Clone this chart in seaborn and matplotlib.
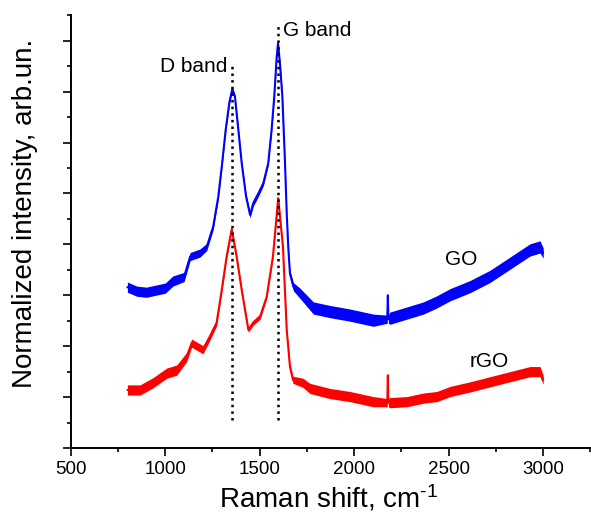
import numpy as np
import pandas as pd
import matplotlib
matplotlib.use("Agg")
import matplotlib.pyplot as plt
import seaborn as sns
from matplotlib.ticker import MultipleLocator, NullFormatter


# Raman spectra (x in cm-1, y in arbitrary units)
GO_X = [800, 850, 900, 950, 1000, 1041, 1100, 1132, 1184, 1220, 1254, 1281,
        1300, 1320, 1340, 1355, 1369, 1387, 1405, 1428, 1449, 1466, 1493, 1519,
        1545, 1563, 1577, 1590, 1597, 1607, 1620, 1634, 1643, 1651, 1660, 1678,
        1713, 1784, 1872, 1978, 2101, 2175, 2178, 2181, 2189, 2278, 2366, 2437,
        2507, 2613, 2718, 2824, 2930, 2983, 3000]
GO_Y = [3.16, 3.08, 3.06, 3.10, 3.14, 3.28, 3.36, 3.76, 3.83, 3.95, 4.35, 4.94,
        5.55, 6.25, 6.80, 7.05, 6.90, 6.25, 5.59, 4.94, 4.58, 4.81, 5.00, 5.20,
        5.59, 6.25, 6.90, 7.69, 7.95, 7.56, 6.90, 5.59, 4.61, 3.95, 3.43, 3.17,
        3.04, 2.75, 2.68, 2.61, 2.51, 2.53, 3.00, 2.53, 2.55, 2.65, 2.75, 2.87,
        3.01, 3.17, 3.37, 3.63, 3.89, 3.95, 3.83]
# half width of the noise band around the GO trace
GO_NOISE = [0.10, 0.10, 0.10, 0.10, 0.10, 0.10, 0.09, 0.08, 0.08, 0.07, 0.06, 0.05,
            0.04, 0.04, 0.04, 0.04, 0.04, 0.04, 0.04, 0.05, 0.06, 0.06, 0.06, 0.05,
            0.04, 0.04, 0.04, 0.04, 0.04, 0.04, 0.04, 0.04, 0.04, 0.05, 0.06, 0.08,
            0.10, 0.12, 0.12, 0.12, 0.12, 0.08, 0.02, 0.08, 0.12, 0.12, 0.12, 0.12,
            0.12, 0.12, 0.12, 0.12, 0.12, 0.12, 0.10]

RGO_X = [800, 867, 935, 1008, 1061, 1114, 1140, 1200, 1237, 1272, 1299, 1325,
         1352, 1378, 1405, 1440, 1465, 1502, 1537, 1570, 1598, 1623, 1643, 1660,
         1676, 1729, 1766, 1872, 1978, 2101, 2175, 2178, 2181, 2189, 2278, 2366,
         2437, 2507, 2613, 2718, 2824, 2930, 2983, 3000]
RGO_Y = [1.14, 1.14, 1.28, 1.47, 1.53, 1.79, 2.06, 1.93, 2.19, 2.46, 3.10, 3.76,
         4.30, 3.76, 3.10, 2.32, 2.46, 2.58, 2.97, 3.76, 4.91, 3.95, 2.32, 1.60,
         1.34, 1.28, 1.17, 1.07, 1.01, 0.91, 0.89, 1.43, 0.89, 0.89, 0.91, 0.98,
         1.01, 1.11, 1.20, 1.30, 1.40, 1.50, 1.50, 1.34]
RGO_NOISE = [0.10, 0.10, 0.10, 0.10, 0.10, 0.09, 0.08, 0.08, 0.07, 0.06, 0.05, 0.04,
             0.04, 0.04, 0.04, 0.05, 0.05, 0.05, 0.04, 0.04, 0.04, 0.04, 0.04, 0.05,
             0.07, 0.09, 0.10, 0.10, 0.10, 0.10, 0.08, 0.02, 0.08, 0.10, 0.10, 0.10,
             0.10, 0.10, 0.10, 0.10, 0.10, 0.10, 0.10, 0.09]

# band positions and the vertical extent of the dotted markers
BAND_POS = [1355, 1598]
BAND_TOP = [7.52, 8.31]
BAND_BOTTOM = 0.55
BAND_LABELS = ["D band", "G band"]

X_TICKS = [500, 1000, 1500, 2000, 2500, 3000]


sns.set_style("ticks")
plt.rcParams['font.family'] = ['Liberation Sans', 'DejaVu Sans']
plt.rcParams['mathtext.fontset'] = 'custom'
plt.rcParams['mathtext.rm'] = 'Liberation Sans'
plt.rcParams['mathtext.it'] = 'Liberation Sans:italic'
plt.rcParams['text.color'] = 'black'
plt.rcParams['axes.labelcolor'] = 'black'
plt.rcParams['xtick.color'] = 'black'
plt.rcParams['ytick.color'] = 'black'

go = pd.DataFrame({'shift': GO_X, 'intensity': GO_Y, 'noise': GO_NOISE})
rgo = pd.DataFrame({'shift': RGO_X, 'intensity': RGO_Y, 'noise': RGO_NOISE})

fig = plt.figure(figsize=(5.91, 5.15), dpi=100)
ax = fig.add_axes([0.1196, 0.1301, 0.8795, 0.8402])

for df, col in [(go, '#0000ff'), (rgo, '#ff0000')]:
    ax.fill_between(df['shift'], df['intensity'] - df['noise'],
                    df['intensity'] + df['noise'], color=col, lw=0)
    sns.lineplot(data=df, x='shift', y='intensity', color=col, lw=1.5, ax=ax)

for pos, top in zip(BAND_POS, BAND_TOP):
    ax.plot([pos, pos], [BAND_BOTTOM, top], color='black', ls=':', lw=1.8)

ax.text(1328, 7.39, BAND_LABELS[0], ha='right', va='baseline', fontsize=15)
ax.text(1625, 8.10, BAND_LABELS[1], ha='left', va='baseline', fontsize=15)
ax.text(2565, 3.60, "GO", ha='center', va='baseline', fontsize=15)
ax.text(2717, 1.60, "rGO", ha='center', va='baseline', fontsize=15)

ax.set_xlim(500, 3250)
ax.set_ylim(0, 8.5)
ax.set_xticks(X_TICKS)
ax.xaxis.set_minor_locator(MultipleLocator(250))
ax.yaxis.set_major_locator(MultipleLocator(1))
ax.yaxis.set_minor_locator(MultipleLocator(0.5))
ax.yaxis.set_major_formatter(NullFormatter())

ax.tick_params(which='major', direction='out', length=5.8, width=1.2,
               labelsize=13.5, color='black', labelcolor='black')
ax.tick_params(which='minor', direction='out', length=2.9, width=1.2,
               color='black')

for side in ['top', 'right']:
    ax.spines[side].set_visible(False)
for side in ['left', 'bottom']:
    ax.spines[side].set_linewidth(1.4)
    ax.spines[side].set_color('black')

ax.set_xlabel("Raman shift, cm$^{\\text{-1}}$", fontsize=20)
ax.set_ylabel("Normalized intensity, arb.un.", fontsize=20)
ax.xaxis.set_label_coords(0.497, -0.080)
ax.yaxis.set_label_coords(-0.063, 0.543)

fig.savefig('out.png', dpi=100)
